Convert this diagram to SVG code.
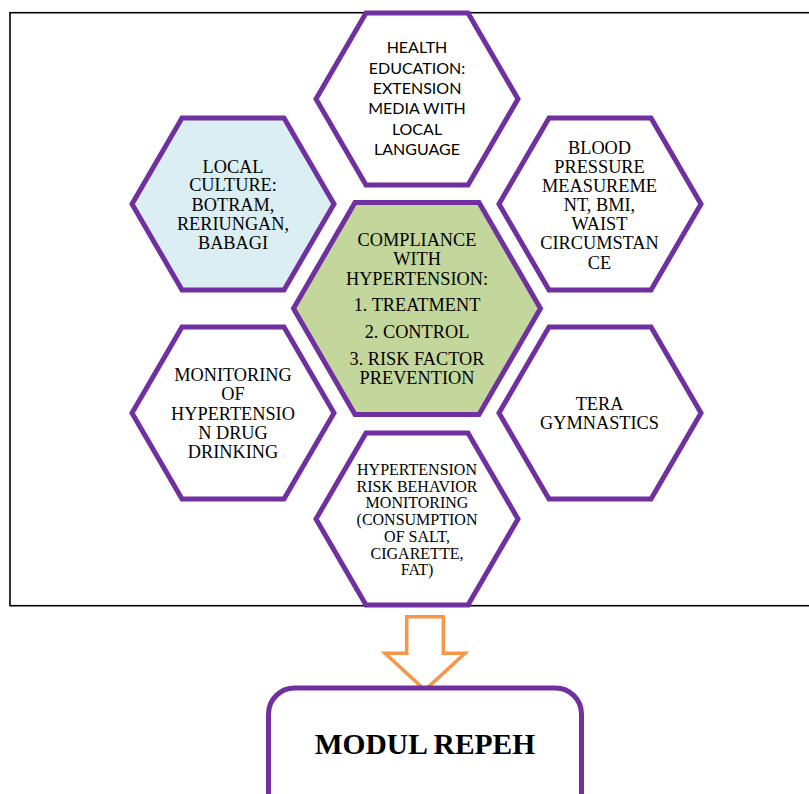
<svg xmlns="http://www.w3.org/2000/svg" xmlns:xlink="http://www.w3.org/1999/xlink" width="809" height="794" viewBox="0 0 809 794">
<style>
.hex{stroke:#7030A0;stroke-width:5;stroke-linejoin:miter}
.w{fill:#FFFFFF}
.blue{fill:#DAEEF3}
.green{fill:#C3D69B}
.t{font-family:"Liberation Serif","Times New Roman",serif;font-size:18.3px;fill:#000;text-anchor:middle}
.ts{font-family:"Liberation Serif","Times New Roman",serif;font-size:16px;fill:#000;text-anchor:middle}
.tc{font-family:Lato,"Noto Sans",sans-serif;font-size:16px;fill:#000;text-anchor:middle}
.tb{font-family:"Liberation Serif","Times New Roman",serif;font-size:29.5px;font-weight:bold;fill:#000;text-anchor:middle}
</style>
<defs>
<polygon id="hx" points="-51,-86 51,-86 101,0 51,86 -51,86 -101,0"/>
<polygon id="hxc" points="-62,-106 62,-106 123.5,0 62,106 -62,106 -123.5,0"/>
</defs>
<rect x="0" y="0" width="809" height="794" fill="#FFFFFF"/>
<rect id="frame" x="10" y="12.7" width="820" height="593" fill="none" stroke="#000" stroke-width="1.6"/>

<g id="health-education">
<use xlink:href="#hx" class="hex w" transform="translate(417,99)"/>
<text class="tc" x="417"><tspan x="417" y="53.2">HEALTH</tspan><tspan x="417" y="73.7">EDUCATION:</tspan><tspan x="417" y="94">EXTENSION</tspan><tspan x="417" y="114.2">MEDIA WITH</tspan><tspan x="417" y="134.7">LOCAL</tspan><tspan x="417" y="155">LANGUAGE</tspan></text>
</g>

<g id="local-culture">
<use xlink:href="#hx" class="hex blue" transform="translate(233,204)"/>
<text class="t"><tspan x="233" y="172.5">LOCAL</tspan><tspan x="233" y="191">CULTURE:</tspan><tspan x="233" y="211">BOTRAM,</tspan><tspan x="233" y="230.3">RERIUNGAN,</tspan><tspan x="233" y="249.3">BABAGI</tspan></text>
</g>

<g id="blood-pressure">
<use xlink:href="#hx" class="hex w" transform="translate(600,204)"/>
<text class="t"><tspan x="599.5" y="153.7">BLOOD</tspan><tspan x="599.5" y="172.7">PRESSURE</tspan><tspan x="599.5" y="191.7">MEASUREME</tspan><tspan x="599.5" y="211">NT, BMI,</tspan><tspan x="599.5" y="230">WAIST</tspan><tspan x="599.5" y="249.3">CIRCUMSTAN</tspan><tspan x="599.5" y="269.3">CE</tspan></text>
</g>

<g id="monitoring-drug">
<use xlink:href="#hx" class="hex w" transform="translate(233,413)"/>
<text class="t"><tspan x="233" y="381">MONITORING</tspan><tspan x="233" y="400.3">OF</tspan><tspan x="233" y="420.3">HYPERTENSIO</tspan><tspan x="233" y="439.3">N DRUG</tspan><tspan x="233" y="457.7">DRINKING</tspan></text>
</g>

<g id="tera-gymnastics">
<use xlink:href="#hx" class="hex w" transform="translate(600,413)"/>
<text class="t"><tspan x="599.5" y="410.3">TERA</tspan><tspan x="599.5" y="429.3">GYMNASTICS</tspan></text>
</g>

<g id="risk-behavior">
<use xlink:href="#hx" class="hex w" transform="translate(417,519)"/>
<text class="ts"><tspan x="417" y="475.3">HYPERTENSION</tspan><tspan x="417" y="492">RISK BEHAVIOR</tspan><tspan x="417" y="507.6">MONITORING</tspan><tspan x="417" y="524.6">(CONSUMPTION</tspan><tspan x="417" y="542">OF SALT,</tspan><tspan x="417" y="558.6">CIGARETTE,</tspan><tspan x="417" y="574.6">FAT)</tspan></text>
</g>

<g id="compliance">
<use xlink:href="#hxc" class="hex green" transform="translate(417,308.5)"/>
<text class="t"><tspan x="417" y="246">COMPLIANCE</tspan><tspan x="417" y="265">WITH</tspan><tspan x="417" y="285">HYPERTENSION:</tspan><tspan x="417" y="311">1. TREATMENT</tspan><tspan x="417" y="338.3">2. CONTROL</tspan><tspan x="417" y="365.3">3. RISK FACTOR</tspan><tspan x="417" y="384.3">PREVENTION</tspan></text>
</g>

<g id="connectors">
<polygon points="406.7,616.7 443.3,616.7 443.3,653.3 465,653.3 425,690 385,653.3 406.7,653.3" fill="#FFFFFF" stroke="#F79646" stroke-width="3.5" stroke-linejoin="miter"/>
</g>

<g id="modul-repeh">
<rect x="268.5" y="688" width="313" height="140" rx="26" ry="26" fill="#FFFFFF" stroke="#7030A0" stroke-width="5"/>
<text class="tb" x="425" y="754">MODUL REPEH</text>
</g>
</svg>
